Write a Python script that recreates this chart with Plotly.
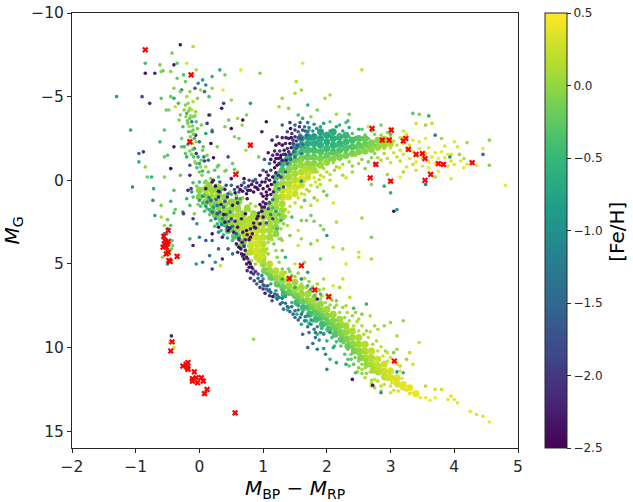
import plotly.graph_objects as go

# (BP-RP, M_G, [Fe/H]), by region of the diagram
# broad dense parts of the diagram, drawn as larger soft marks under the individual stars
dense_ms = [
(1.0,4.6,.2),(1.0,5.0,.12),(1.02,5.4,-.1),(1.1,5.0,.2),(1.1,5.4,.08),(1.12,5.8,-.2),(1.2,5.4,.2),(1.2,5.8,.02),(1.22,6.2,-.25),(1.3,5.6,.2),
(1.3,6.0,.05),(1.31,6.4,-.2),(1.33,6.8,-.45),(1.4,5.9,.18),(1.4,6.3,.0),(1.41,6.7,-.25),(1.5,6.1,.12),(1.5,6.5,.02),(1.51,6.9,-.2),(1.53,7.3,-.45),
(1.6,6.4,.12),(1.6,6.8,-.02),(1.61,7.2,-.2),(1.63,7.6,-.45),(1.7,6.8,.1),(1.7,7.2,-.05),(1.71,7.6,-.25),(1.73,8.0,-.45),(1.8,7.1,.08),(1.8,7.5,-.05),
(1.81,7.9,-.25),(1.83,8.3,-.45),(1.9,7.4,.05),(1.9,7.8,-.08),(1.91,8.2,-.25),(1.93,8.6,-.45),(2.0,7.7,.05),(2.0,8.1,-.05),(2.01,8.5,-.22),(2.03,8.9,-.4),
(2.1,8.0,.05),(2.1,8.4,-.03),(2.11,8.8,-.18),(2.13,9.2,-.35),(2.2,8.3,.08),(2.2,8.7,.0),(2.21,9.1,-.12),(2.23,9.5,-.28),(2.3,8.7,.08),(2.3,9.1,.02),
(2.31,9.5,-.08),(2.33,9.9,-.22),(2.4,9.0,.1),(2.4,9.4,.04),(2.41,9.8,-.03),(2.43,10.2,-.15),(2.5,9.4,.12),(2.5,9.8,.06),(2.51,10.2,.0),(2.53,10.6,-.08),
(2.6,9.8,.15),(2.6,10.2,.1),(2.61,10.6,.05),(2.63,11.0,.0),(2.7,10.2,.2),(2.7,10.6,.14),(2.71,11.0,.1),(2.73,11.35,.08),(2.8,10.7,.24),(2.8,11.1,.2),
(2.81,11.45,.14),(2.9,11.0,.28),(2.9,11.4,.24),(2.91,11.75,.2),(3.0,11.4,.32),(3.0,11.8,.28),(3.1,11.8,.36),(3.1,12.1,.32),(3.2,12.2,.38),(3.3,12.4,.4),
(3.4,12.75,.42),(.92,4.3,.25),(.95,4.75,.2),
]
dense_turnoff = [
(.0,.6,.0),(.0,1.0,-.1),(.1,.5,.05),(.1,.9,.02),(.1,1.3,-.1),(.2,.6,.05),(.2,1.0,.05),(.2,1.4,-.02),(.2,1.8,-.2),(.3,.8,.02),
(.3,1.2,.05),(.3,1.6,.02),(.3,2.0,-.15),(.4,1.0,.0),(.4,1.4,.06),(.4,1.8,.05),(.4,2.2,-.05),(.4,2.6,-.2),(.5,1.3,.02),(.5,1.7,.08),
(.5,2.1,.08),(.5,2.5,.02),(.5,2.9,-.15),(.6,1.7,.05),(.6,2.1,.1),(.6,2.5,.1),(.6,2.9,.06),(.6,3.3,-.1),(.7,2.0,.08),(.7,2.4,.14),
(.7,2.8,.16),(.7,3.2,.15),(.7,3.6,.0),(.8,2.3,.12),(.8,2.7,.18),(.8,3.1,.24),(.8,3.5,.26),(.8,3.9,.25),(.8,4.3,.18),(.9,2.2,.08),
(.9,2.6,.14),(.9,3.0,.2),(.9,3.4,.26),(.9,3.8,.3),(.9,4.2,.3),(.9,4.6,.25),(1.0,1.8,.03),(1.0,2.2,.08),(1.0,2.6,.14),(1.0,3.0,.18),
(1.0,3.4,.22),(1.0,3.8,.22),(1.0,4.2,.2),(1.1,1.4,.03),(1.1,1.8,.05),(1.1,2.2,.08),(1.1,2.6,.1),(1.1,3.0,.1),(1.1,3.4,.08),(1.2,1.2,.08),
(1.2,1.6,.08),(1.2,2.0,.05),(1.2,2.4,.03),(1.2,2.8,-.02),(1.3,1.0,.2),(1.3,1.4,.12),(1.3,1.8,.02),(.15,.3,.02),(.3,.45,.0),(.55,1.3,.0),
(.62,1.25,.02),(.75,1.65,.06),(.85,2.0,.06),(.35,2.4,-.25),(.45,3.0,-.3),(.55,3.35,-.2),(.68,3.85,-.1),(.25,2.05,-.25),(1.2,3.2,.0),(1.3,2.2,.0),
]
dense_giants = [
(1.2,1.0,.02),(1.2,.6,-.05),(1.2,.2,-.15),(1.2,-.2,-.4),(1.3,1.0,.22),(1.3,.6,.2),(1.3,.2,.08),(1.3,-.2,-.05),(1.3,-.6,-.35),(1.3,-1.0,-.6),
(1.4,1.0,.3),(1.4,.6,.32),(1.4,.2,.18),(1.4,-.2,.05),(1.4,-.6,-.05),(1.4,-1.0,-.3),(1.4,-1.4,-.65),(1.5,.8,.3),(1.5,.4,.3),(1.5,.0,.2),
(1.5,-.4,.1),(1.5,-.8,-.02),(1.5,-1.2,-.2),(1.5,-1.6,-.5),(1.5,-2.0,-.8),(1.6,.3,.3),(1.6,-.1,.32),(1.6,-.5,.15),(1.6,-.9,.03),(1.6,-1.3,-.15),
(1.6,-1.7,-.35),(1.6,-2.1,-.65),(1.6,-2.5,-.9),(1.7,-.2,.28),(1.7,-.6,.16),(1.7,-1.0,.02),(1.7,-1.4,-.15),(1.7,-1.8,-.38),(1.7,-2.2,-.62),(1.7,-2.6,-.85),
(1.8,-.6,.12),(1.8,-1.0,.0),(1.8,-1.4,-.15),(1.8,-1.8,-.38),(1.8,-2.2,-.62),(1.8,-2.6,-.75),(1.9,-.9,.05),(1.9,-1.3,-.12),(1.9,-1.7,-.35),(1.9,-2.1,-.6),
(1.9,-2.5,-.68),(1.9,-2.9,-.75),(2.0,-1.1,.02),(2.0,-1.5,-.2),(2.0,-1.9,-.45),(2.0,-2.3,-.62),(2.0,-2.7,-.7),(2.1,-1.3,-.05),(2.1,-1.7,-.28),(2.1,-2.1,-.55),
(2.1,-2.5,-.6),(2.1,-2.9,-.65),(2.2,-1.4,-.08),(2.2,-1.8,-.3),(2.2,-2.2,-.5),(2.2,-2.6,-.55),(2.3,-1.5,-.1),(2.3,-1.9,-.3),(2.3,-2.3,-.45),(2.3,-2.7,-.5),
(2.4,-1.6,-.08),(2.4,-2.0,-.28),(2.4,-2.4,-.38),(2.5,-1.7,-.05),(2.5,-2.1,-.22),(2.5,-2.5,-.3),(2.6,-1.75,-.02),(2.6,-2.15,-.15),(2.6,-2.5,-.2),(2.7,-1.85,.0),
(2.7,-2.25,-.1),(2.8,-2.0,.02),(2.8,-2.4,-.02),(2.9,-2.1,.08),(2.9,-2.45,.08),(3.0,-2.2,.15),
]
ms_band = [
(1.02,4.8,.1),(1.0,5.1,.0),(1.05,5.3,-.1),(.98,4.6,.15),(1.08,5.0,.2),(1.1,5.2,.1),(1.12,5.6,-.1),(1.06,5.6,-.3),(1.15,5.5,.1),(1.18,5.9,-.05),
(1.14,5.9,-.25),(1.2,5.6,.15),(1.22,6.1,-.1),(1.25,5.8,.1),(1.28,6.0,.05),(1.24,6.3,-.3),(1.3,6.3,-.15),(1.33,6.0,.1),(1.35,6.4,-.1),(1.38,6.2,.1),
(1.3,6.6,-.4),(1.4,6.6,-.2),(1.42,6.4,.05),(1.45,6.7,-.1),(1.48,6.5,.1),(1.47,6.9,-.3),(1.5,6.8,-.05),(1.53,6.6,.15),(1.55,7.0,-.15),(1.58,6.8,.05),
(1.54,7.2,-.35),(1.6,7.1,-.1),(1.62,6.9,.1),(1.64,7.3,-.2),(1.67,7.1,.0),(1.7,7.5,-.25),(1.72,7.2,.05),(1.68,7.6,-.4),(1.74,7.4,-.1),(1.77,7.3,.1),
(1.78,7.7,-.2),(1.8,7.5,-.05),(1.83,7.4,.1),(1.76,7.9,-.4),(1.84,7.8,-.2),(1.87,7.6,-.02),(1.86,8.0,-.3),(1.9,7.8,-.1),(1.92,8.1,-.25),(1.94,7.7,.05),
(1.95,8.0,-.1),(1.88,8.3,-.45),(1.98,8.3,-.25),(2.0,8.0,-.05),(2.02,7.8,.1),(2.03,8.4,-.15),(2.05,8.1,.0),(1.97,8.6,-.4),(2.07,8.6,-.2),(2.09,8.3,-.05),
(2.1,7.95,.1),(2.12,8.7,-.1),(2.14,8.4,.0),(2.05,8.9,-.35),(2.15,8.9,-.2),(2.17,8.6,-.05),(2.19,8.2,.1),(2.2,9.1,-.1),(2.22,8.8,.0),(2.12,9.2,-.3),
(2.24,8.5,.12),(2.25,9.3,-.1),(2.27,9.0,.02),(2.2,9.5,-.25),(2.3,9.5,-.05),(2.31,9.2,.05),(2.33,8.9,.12),(2.26,9.7,-.2),(2.35,9.7,-.05),(2.36,9.4,.05),
(2.38,9.1,.15),(2.4,10.0,-.1),(2.41,9.7,.0),(2.33,10.1,-.2),(2.43,9.4,.1),(2.45,10.2,-.05),(2.46,9.9,.05),(2.48,9.6,.15),(2.38,10.4,-.15),(2.5,10.4,.0),
(2.51,10.1,.05),(2.53,9.8,.18),(2.44,10.6,-.1),(2.55,10.6,.02),(2.56,10.3,.1),(2.58,10.0,.2),(2.5,10.8,-.05),(2.6,10.8,.05),(2.62,10.5,.15),(2.63,10.2,.22),
(2.55,11.0,.0),(2.65,11.0,.1),(2.67,10.7,.18),(2.68,10.4,.25),(2.6,11.2,.02),(2.7,11.2,.15),(2.72,10.9,.2),(2.74,11.35,.12),(2.76,11.1,.2),(2.78,10.8,.28),
(2.68,11.45,.1),(2.8,11.3,.22),(2.82,11.55,.15),(2.84,11.2,.28),(2.86,11.5,.25),(2.88,11.75,.2),(2.9,11.4,.3),(2.92,11.7,.28),(2.95,11.9,.25),(2.97,11.6,.32),
(3.0,11.85,.32),(3.02,12.1,.28),(3.05,11.9,.35),(3.08,12.15,.33),(3.1,12.3,.3),(3.12,12.05,.38),(3.15,12.3,.38),(3.18,12.45,.35),(3.2,12.2,.4),(3.22,12.5,.4),
(3.25,12.55,.42),(3.3,12.75,.4),(3.35,12.7,.42),(3.42,12.85,.44),(3.47,13.0,.45),(3.55,13.0,.43),(3.62,13.15,.46),(3.7,13.0,.45),
(1.6,6.2,.1),(1.75,6.65,.05),(1.9,7.1,.1),(2.05,7.45,.05),(2.2,7.9,.1),(2.35,8.4,.1),(2.5,9.0,.15),(2.65,9.4,.2),(2.8,10.2,.25),(2.95,10.8,.3),
(1.5,5.75,.05),(1.68,6.4,.1),(1.82,6.85,.0),(1.98,7.3,.1),(2.12,7.6,.0),(2.28,8.2,.05),(2.42,8.7,.15),(2.58,9.2,.1),(2.72,9.8,.15),(2.88,10.5,.3),
(1.45,7.3,-.5),(1.62,7.85,-.5),(1.78,8.4,-.5),(1.92,8.85,-.5),(2.08,9.4,-.4),(2.22,9.9,-.3),(2.38,10.7,-.25),(2.5,11.2,-.1),(2.62,11.55,.0),(2.8,12.0,.15),
(2.48,11.45,.05),(2.6,11.8,.1),(2.7,11.95,.12),(2.9,12.2,.25),(3.0,12.3,.3),(3.05,12.55,.25),(3.12,12.6,.3),(2.95,10.3,.3),(3.1,11.0,.35),(3.18,11.85,.4),
(1.35,5.5,.1),(1.42,5.45,-.1),(1.55,5.55,.0),(1.65,5.85,.1),(1.72,6.05,-.05),(1.78,6.35,.1),(1.88,6.55,-.05),(1.92,6.9,.05),(2.0,6.85,.1),(2.08,7.15,-.05),
(2.15,7.45,.1),(2.25,7.6,.0),(2.32,7.9,.1),(2.4,8.1,.05),(2.47,8.45,.2),(2.55,8.7,.1),(2.62,9.0,.05),(2.68,9.05,.2),(2.78,9.6,.15),(2.85,9.95,.2),
(2.92,10.2,.1),(3.0,10.6,.3),(3.05,10.85,.2),(3.15,11.4,.35),(1.2,7.0,-.5),(1.38,7.75,-.6),(1.53,8.0,-.6),(1.68,8.4,-.55),(1.85,9.2,-.6),(2.0,9.6,-.5),
(2.12,9.9,-.4),(2.28,10.4,-.3),(2.42,11.0,-.25),(2.33,10.7,-.3),(2.55,11.55,-.05),(2.7,12.15,.1),(2.85,12.3,.2),(2.15,9.65,-.45),(1.95,9.15,-.55),(1.72,8.55,-.6),
]
ms_sparse = [
(1.3,5.3,-.1),(1.45,5.7,-.15),(1.5,6.1,.0),(1.6,5.9,.05),(1.7,6.3,-.4),(1.72,6.6,-.1),(1.85,6.2,.0),(1.95,6.5,.1),(2.03,7.0,.05),(2.15,7.2,-.1),
(2.2,6.4,.1),(1.8,6.9,-.3),(2.3,7.5,.1),(2.36,7.0,.2),(2.42,7.65,-.5),(2.45,7.9,.02),(2.5,8.3,.15),(2.55,8.0,-.1),(2.62,7.4,-.6),(2.68,8.1,.1),
(2.75,8.7,.05),(2.8,8.9,.15),(2.9,8.7,.0),(3.0,8.5,.05),(3.1,9.3,.1),(3.2,8.4,.0),(3.05,10.3,-.1),(3.1,10.1,.05),(3.25,10.7,.05),(3.3,10.3,.2),
(3.15,11.1,.2),(3.2,11.5,-.6),(3.35,11.0,.35),(3.45,9.7,.3),(3.55,12.3,.15),(3.7,12.5,.3),(3.8,12.5,.25),(3.95,12.9,.35),(4.05,13.3,.4),(4.25,13.8,.42),
(4.35,14.0,.35),(4.45,14.1,.4),(4.55,14.45,.45),(3.9,13.1,.42),(4.0,13.1,.4),(2.35,11.1,-.2),(2.45,11.5,-.4),(2.75,12.4,.05),(2.7,12.3,.1),(3.0,12.7,.3),
(2.85,12.6,.1),(3.1,11.45,-.9),(2.55,11.3,.1),(2.75,11.9,.2),(2.4,11.9,-2.3),(2.72,12.25,-2.4),(2.85,12.7,-1.0),(2.3,11.0,-.7),
(1.95,5.9,.1),(1.9,4.7,-.2),(1.9,6.8,-.4),(2.25,5.9,.25),(1.65,4.9,.1),(1.7,5.5,-.8),(1.5,5.0,.3),(2.1,6.3,.35),(1.25,4.9,.05),(1.4,5.3,-.2),
(1.35,4.6,-.6),(1.85,7.1,-2.2),
]
subdwarfs = [
(.58,3.8,-2.3),(.62,4.0,-2.4),(.6,4.3,-2.2),(.67,3.7,-2.4),(.66,4.4,-2.3),(.7,4.7,-2.4),(.72,4.2,-2.2),(.74,5.0,-2.3),(.78,5.2,-2.4),(.75,5.4,-2.1),
(.81,5.5,-2.2),(.85,5.6,-2.0),(.8,5.85,-1.9),(.86,6.0,-1.9),(.9,6.2,-1.7),(.95,6.4,-1.8),(1.0,6.5,-2.0),(1.03,6.75,-2.2),(1.08,6.6,-1.7),(1.1,6.9,-2.0),
(1.15,6.95,-2.3),(1.14,7.2,-1.7),(1.22,7.1,-1.6),(1.27,7.4,-1.6),(1.32,7.7,-1.4),(1.38,7.55,-1.5),(1.42,7.85,-1.5),(1.47,8.0,-1.4),(1.5,7.8,-1.3),(1.6,8.0,-1.3),
(1.65,8.4,-1.2),(1.75,8.6,-1.1),(1.8,8.9,-1.2),(1.72,9.1,-1.3),(1.62,9.2,-1.4),(1.85,8.75,-1.0),(1.9,9.1,-1.0),(1.82,9.4,-1.3),(1.95,9.2,-.9),(1.7,10.0,-1.6),
(2.05,9.1,-1.0),(1.85,10.1,-1.2),(1.95,10.05,-1.0),(1.98,10.4,-1.1),(2.0,11.3,-1.1),(2.1,10.0,-.7),(2.05,10.7,-.5),(2.15,10.9,-.7),(.3,4.1,-1.5),(.36,4.7,-2.2),
(.2,3.6,-1.5),(.45,4.1,-1.7),(.52,4.4,-1.4),(.25,4.9,-1.0),(.16,4.5,-1.3),(.05,4.9,-1.1),(-.05,5.0,-.9),(.2,5.3,-2.0),(1.6,5.9,-1.1),(1.75,6.5,-.8),
(1.3,5.9,-.8),(1.5,6.4,-.6),(1.0,5.9,-1.0),(1.12,6.2,-.7),(.98,5.7,-1.1),(1.2,6.6,-.9),(1.35,6.95,-.8),(1.55,7.5,-.7),(1.7,8.1,-.8),(1.6,8.6,-.8),
(.1,3.6,-1.7),(.33,5.1,.3),(-.1,3.9,-2.2),(.36,3.4,-2.2),(.0,3.4,-1.2),(-.15,3.5,-.6),
(.62,3.5,-2.0),(.7,3.95,-1.9),(.68,4.55,-2.0),(.76,4.7,-1.8),(.8,5.0,-2.2),(.84,5.3,-1.7),(.92,5.85,-1.5),(.95,6.05,-1.4),(1.02,6.3,-1.5),(1.05,6.5,-1.3),
(1.1,6.55,-1.2),(1.25,7.0,-1.2),(1.3,7.3,-1.2),(1.4,7.6,-1.1),(1.5,8.2,-1.4),(1.55,8.35,-1.5),(1.7,8.75,-1.3),(1.82,9.1,-1.2),(1.88,9.55,-1.0),(1.78,9.75,-1.4),
(.65,4.1,-2.4),(.7,4.45,-2.4),(.74,4.6,-2.3),(.78,4.9,-2.4),(.82,5.2,-2.4),(.88,5.45,-2.0),(.92,5.6,-1.8),(.98,6.05,-2.0),(1.0,6.25,-1.6),(1.07,6.3,-1.7),
(1.12,6.7,-1.7),(1.18,6.8,-1.5),(1.22,6.85,-1.4),(1.3,7.05,-1.4),(1.35,7.35,-1.3),(1.45,7.55,-1.3),(1.55,7.75,-1.2),(1.58,8.2,-1.2),(1.66,8.15,-1.1),(1.75,8.35,-1.0),
]
wd_sparse = [
(-.44,9.3,-2.2),(-.47,9.7,.4),(-.4,10.0,.3),(.85,9.5,.0),
(-.5,5.0,-1.2),(-.58,4.6,.0),(-.5,4.2,-.3),(-.47,4.4,.1),(-.44,4.1,-.2),(-.45,4.7,.1),(-.55,3.2,-1.4),(-.51,3.2,-.9),(-.43,3.6,-.3),(-.42,3.9,-.1),
(-.5,2.9,-1.2),(-.55,2.7,.0),(-.6,2.2,.1),(-.5,2.35,-.2),(-.4,1.95,-.4),(-.7,2.1,-.8),
(-.25,2.0,-1.9),(-.1,2.3,-2.0),(-.04,2.6,-1.0),
]
upper_ms = [
(-.85,-6.4,-2.3),(-.7,-6.4,-2.2),(-.9,-5.0,-1.8),(-1.3,-5.0,-.8),(-1.08,-3.0,-.7),(-.78,-4.6,-2.1),(-.85,-.8,.0),(-.95,-1.1,-.6),(-1.05,.4,-1.0),(-.95,-1.6,-1.5),
(-.88,-1.7,-2.0),(-.82,-.2,-.2),(-.75,-.2,-.6),(-.73,1.2,-.9),(-.72,.5,-.7),(-.55,-3.0,-.3),(-.62,-2.3,-.5),(-.55,-1.4,-.2),(-.5,-1.5,-.3),(-.55,-.2,-.1),
(-.45,-.7,-2.4),(-.4,-2.0,-2.3),(-.52,-4.2,-.2),(-.45,-5.0,-.2),(-.4,-5.5,.0),(-.38,-4.4,.2),(-.35,-6.1,-.2),(-.25,-6.3,-.3),(-.28,-5.4,-1.3),(-.3,-5.3,-.1),
(-.33,-4.6,-.4),(-.32,-3.6,-.1),(-.3,-3.9,-.1),(-.28,-2.5,-.1),(-.26,-3.2,-.4),(-.24,-2.0,-.5),(-.22,-1.6,-.3),(-.22,-4.5,-.1),(-.2,-4.0,-.4),(-.18,-4.6,.0),
(-.18,-3.4,-.1),(-.16,-3.2,.1),(-.15,-3.7,-.2),(-.15,-4.3,.05),(-.13,-2.9,-.1),(-.12,-4.2,.2),(-.12,-3.5,-1.3),(-.1,-3.0,-.2),(-.1,-4.7,.15),(-.08,-2.5,-.5),
(-.08,-1.9,-1.5),(-.07,-5.5,-1.7),(-.06,-2.7,-2.3),(-.05,-3.5,-.4),(-.05,-1.6,-2.0),(-.03,-4.9,-.05),(-.02,-1.4,-.7),(-.02,-5.8,-1.0),(.0,-.5,-.2),(.0,-2.3,-1.4),
(.02,-5.4,.1),(.03,-3.3,-.1),(.03,-1.2,-.2),(.05,-1.8,-.2),(.07,-1.4,-1.2),(.08,-5.3,-1.3),(.1,-2.8,-.8),(.1,-5.7,-1.1),(.12,-1.5,-.1),(.15,-5.0,-.4),
(.17,-3.9,-.1),(.2,-3.0,-.5),(.18,-2.2,-2.4),(.24,-.6,-.3),(.3,-.2,-.4),(.28,-.8,-.1),(.3,-.9,-.2),(.28,-2.0,-.1),(.4,-3.2,-.1),(.4,-.55,-.1),
(.37,-5.4,.4),(.5,-4.8,.0),(.52,-1.0,-.2),(.55,-2.6,.0),(.42,-.6,-.1),(.45,-1.4,-1.7),(.62,-2.5,-.1),(.46,-3.6,-.2),(.5,-3.1,-2.4),(.6,-3.7,.1),
(.55,-.65,-.2),(.68,-3.6,-2.4),(.67,-3.3,.0),(.74,-3.9,-.1),(.8,-4.6,-.8),(.73,-1.8,.15),(.93,-1.4,-.1),(.35,-4.3,-2.3),(.38,-4.6,-1.9),(-.2,-1.4,-.6),
(-.28,-2.0,-.3),(-.05,-1.0,-.2),(.15,-3.9,-2.3),(.2,-2.9,-1.7),(.12,-3.4,-2.0),(.14,-.5,-.3),(.18,-.1,-.2),(-.15,-.9,-1.5),(.5,-.1,-2.3),(.6,-.5,-.1),
(-.6,-4.9,-.3),(-.48,-4.2,-.1),(-.4,-4.9,-.7),(-.15,-.3,-2.2),(-.3,-.3,-.2),(-.4,.6,-.3),(-.45,1.25,-.5),(-.38,1.75,-.2),(-.15,1.5,-.4),(-.2,1.1,-.6),
(-.18,.6,-2.2),(-.13,.5,-2.0),(-.1,1.0,-.3),(-.26,1.9,-1.0),(-.08,2.0,-.1),(-.12,.7,-.8),(-.45,2.7,-.3),(-.6,1.5,-.1),
(-.85,-7.0,-.4),(-.4,-6.9,-2.3),(-.2,-7.0,.35),(-.3,-8.1,-2.4),(-.45,-6.5,-.05),(-.62,-6.9,-.15),(-.6,-6.5,-.05),(-.35,-7.0,-.3),(-.22,-5.9,-.2),(-.05,-6.6,.15),
(.05,-6.0,-.8),(.2,-6.2,-.6),(.2,-5.5,-.05),(.32,-6.6,-.6),(.4,-6.3,-.1),(.65,-6.6,.4),(.95,-6.4,-.05),(-.43,-7.6,-.1),(-.57,-6.55,-.2),(-.1,-8.0,.2),
(-.24,-4.2,-.05),(-.21,-3.8,.0),(-.19,-3.55,-.15),(-.17,-2.9,-.3),(-.14,-2.6,-.05),(-.11,-2.2,.2),(-.09,-1.4,-.3),(-.07,-1.1,-.05),(-.05,-2.3,.0),(-.03,-3.1,-.1),
(.0,-1.0,-.6),(.02,-.8,.05),(.04,-.3,-.1),(.06,-2.0,-.3),(.1,-.8,.1),(-.16,-2.4,.25),(-.1,-3.8,-.1),(-.06,-4.1,-.05),(-.2,-5.0,.1),(-.15,-5.3,.0),
(-.17,-4.15,-.05),(-.14,-3.85,.05),(-.11,-3.25,-.1),(-.09,-2.75,-.2),(-.07,-3.85,-.05),(-.18,-2.15,-.6),(-.15,-1.75,-.1),(-.12,-1.55,-.05),(-.1,-1.85,-.3),(-.04,-.75,-.4),
(.05,-.55,-.5),(.08,-1.15,-1.9),(.14,-1.2,-1.6),(.22,-1.35,-2.4),(.1,.05,-.1),(.0,.1,-.5),(-.1,.15,-.4),(-.04,.35,-.05),(.22,.0,-2.1),(.32,.1,-1.6),
]
turnoff_core = [
(.0,.7,-.05),(.03,1.0,.1),(.06,.5,.05),(.08,.9,-.2),(.1,1.2,.05),(.12,.7,.2),(.14,1.0,-.1),(.15,.35,.0),(.17,1.3,-.05),(.19,.8,.1),
(.2,1.6,.0),(.22,1.1,.15),(.24,.6,-.05),(.25,1.4,-.2),(.27,1.0,.05),(.3,1.7,-.05),(.31,1.3,.1),(.33,.9,.0),(.35,2.0,.0),(.36,1.5,.05),
(.38,1.1,-.1),(.4,1.8,.1),(.41,2.3,-.1),(.43,1.4,.0),(.45,2.0,.15),(.46,1.7,-.02),(.48,2.5,.0),(.5,1.4,.05),(.5,2.2,.1),(.52,1.9,.05),
(.54,2.7,.15),(.55,2.4,.0),(.57,1.7,.1),(.58,2.1,.15),(.6,2.6,.05),(.6,3.0,.1),(.62,1.5,-.05),(.63,2.3,.2),(.65,2.8,.2),(.66,1.9,.05),
(.68,3.2,.15),(.69,2.5,.1),(.7,2.1,.0),(.71,3.0,.25),(.73,2.7,.2),(.74,3.5,.2),(.75,2.3,.15),(.77,3.1,.3),(.78,1.8,.05),(.79,3.8,.3),
(.8,2.7,.2),(.81,3.4,.3),(.83,2.2,.1),(.84,4.1,.3),(.85,3.0,.25),(.86,3.7,.3),(.87,4.4,.3),(.88,2.5,.15),(.9,3.3,.25),(.91,4.0,.3),
(.92,4.6,.25),(.93,2.8,.15),(.95,3.6,.25),(.96,4.3,.25),(.97,2.2,.1),(.98,3.1,.2),(1.0,3.9,.15),(1.01,4.5,.2),(1.02,2.6,.1),(1.03,3.4,.2),
(1.05,2.0,.05),(1.06,4.1,.1),(1.07,3.0,.15),(1.08,3.7,.1),(1.1,2.4,.05),(1.12,3.3,.05),(1.13,1.8,.0),(1.15,2.8,.0),(1.17,3.8,-.1),(1.18,2.1,.05),
(1.2,3.1,.0),(1.22,1.5,.1),(1.24,2.5,.1),(1.26,1.9,.15),(1.28,3.5,-.1),(1.3,1.4,.05),
(.3,2.3,-.15),(.22,2.1,-.1),(.12,1.7,-.3),(.4,2.7,-.3),(.5,3.0,-.2),
(.55,3.4,-.4),(.65,3.7,-.1),(.72,4.15,.05),(.75,4.4,.1),(.82,4.8,.15),(.88,5.0,.05),(1.2,4.2,.1),(1.22,4.6,-.05),(1.3,4.2,-.2),(1.3,3.6,.1),
(1.38,2.7,.1),(1.42,3.3,-.1),(1.55,3.0,.3),(1.55,3.9,.3),(1.45,2.2,-.4),(1.6,3.5,.1),(1.68,2.4,-.05),(1.75,3.8,-.1),(1.85,3.6,.1),(1.35,1.75,.15),
(.05,1.35,-.5),(.1,1.55,-.9),(.15,1.05,-1.2),(.2,1.9,-1.3),(.28,1.5,-1.2),(.38,1.6,-1.3),(.48,1.9,-1.2),(.32,.7,-1.6),(.42,.3,-1.8),(.58,1.05,-1.6),
(.25,2.3,-1.3),(.35,2.65,-1.1),(.45,3.0,-1.4),(.15,1.75,-.6),(.62,3.4,-.8),(.7,3.9,-1.2),(.6,2.8,-2.3),(.4,2.5,-2.3),(.3,1.0,-2.3),(.52,1.5,-2.4),
(.18,1.2,-1.6),(.12,1.3,-1.4),(.26,1.15,-1.5),(.32,1.9,-1.6),(.42,2.05,-1.5),(.22,1.6,-.9),(.36,2.3,-.9),(.46,2.45,-1.6),(.52,2.75,-1.3),(.58,3.2,-1.5),
(.66,2.3,-2.3),(.72,2.0,-2.4),(.56,2.45,-2.2),(.48,2.85,-2.3),(.34,3.0,-.6),(.28,2.6,-.5),(.05,.95,-.9),(.0,1.2,-.7),(.08,1.85,-.4),(.18,2.4,-.5),
(.02,1.55,-.3),(-.02,1.45,-.1),(.08,.15,.0),(.16,2.05,-.2),(.24,2.75,-.4),(.3,3.1,-.9),(.38,3.25,-.5),(.44,3.45,-.8),(.52,3.6,-.4),(.6,3.9,-.3),
(.26,.3,.0),(.38,.45,.05),(.48,.7,.02),(.58,.9,.0),(.68,1.05,.05),(.8,1.4,.1),(.88,1.55,.08),(.35,.55,-.3),(.5,.85,-.5),(.64,1.1,-.7),
(.44,1.0,-2.3),(.56,.75,-2.4),(.34,1.45,-2.2),(.4,1.25,-1.7),(.5,2.3,-2.0),(.44,2.8,-1.9),(.28,2.0,-1.8),(.54,3.1,-2.3),(.62,3.55,-2.4),(.38,2.05,-2.4),
(.6,2.25,.15),(.66,2.65,.12),(.76,2.55,.2),(.84,3.35,.3),(.94,3.95,.32),(.98,4.65,.3),(1.04,4.3,.2),(1.08,4.4,.0),(1.14,3.55,.1),(1.25,3.5,.0),
(1.32,2.6,-.1),(1.28,2.9,.05),(1.35,2.15,.05),(1.25,2.05,-.3),(1.15,1.65,-.4),(1.05,2.55,-1.7),(1.12,2.05,-1.2),(1.2,1.85,-.8),(1.22,2.9,-.5),(1.28,2.4,-.6),
]
halo_dark = [
(.55,.55,-1.7),(.6,.4,-2.2),(.62,.7,-1.5),(.66,.3,-2.1),(.68,.65,-2.3),(.72,.45,-1.4),(.74,.8,-2.4),(.77,.35,-2.2),(.8,.6,-2.3),(.82,.25,-2.4),
(.85,.7,-2.4),(.87,.4,-2.4),(.9,.15,-2.2),(.92,.55,-2.3),(.95,.3,-2.4),(.97,.8,-2.1),(1.0,.5,-2.4),(1.03,.1,-2.3),(1.05,.7,-2.4),(1.07,.35,-2.4),
(1.1,.0,-2.3),(1.1,.55,-2.4),(1.13,.25,-2.4),(1.15,-.2,-2.4),(1.16,.7,-2.3),(1.18,.1,-2.2),(1.2,-.45,-2.3),(1.05,-.1,-2.0),(1.12,-.6,-2.1),(1.22,-.9,-2.4),
(1.24,-.3,-2.0),(1.18,-1.1,-2.3),(1.15,-1.5,-2.2),(1.2,-1.3,-2.4),(1.25,-1.0,-2.2),(1.28,-1.5,-2.4),(1.3,-1.2,-2.3),(1.26,-1.75,-2.0),(1.33,-1.8,-2.3),(1.35,-2.2,-2.2),
(1.32,-1.55,-1.9),(1.38,-1.9,-2.0),(1.4,-2.5,-2.1),(1.42,-2.2,-2.4),(1.45,-2.8,-2.0),(1.47,-2.4,-1.8),(1.5,-3.0,-1.9),(1.5,-2.6,-2.2),(1.52,-1.9,-1.5),(1.55,-2.9,-1.6),
(1.57,-3.2,-2.1),(1.6,-2.5,-1.7),(1.62,-3.0,-1.8),(1.65,-3.2,-1.3),(1.68,-2.7,-1.5),(1.7,-2.9,-1.2),(1.38,-2.9,-1.8),(1.3,-3.3,-1.5),(1.25,-2.2,-2.3),(1.43,-3.1,-2.4),
(1.1,-1.0,-1.4),(1.0,-.6,-1.7),(1.05,-.5,-2.2),(1.6,-1.6,-1.2),(1.5,-1.4,-1.3),(1.43,-1.25,-1.5),(1.38,-1.0,-1.4),(1.35,-.5,-1.7),(1.28,-.2,-1.9),(1.32,.4,-1.9),
(1.0,.95,-2.4),(1.05,1.1,-2.3),(1.0,1.3,-2.2),(.95,1.45,-2.4),(1.02,1.6,-2.3),(.98,1.85,-2.4),(.93,1.95,-2.2),(1.0,2.2,-2.4),(.9,2.3,-2.3),(.95,2.6,-2.4),
(.85,2.55,-2.3),(.88,2.85,-2.4),(.8,2.9,-2.2),(.83,3.2,-2.4),(.75,3.25,-2.3),(.78,3.55,-2.4),(.72,3.55,-2.2),(.68,3.1,-2.2),(1.1,1.35,-1.5),(1.08,1.7,-1.9),
(1.15,1.15,-1.4),(1.15,2.3,-1.9),(.4,.55,-2.3),(.3,.65,-2.4),(.45,.8,-1.5),(.5,.3,-1.4),(.2,.1,-2.4),(.25,.35,-2.4),(.1,.5,-2.3),
(1.6,.05,-1.1),(1.25,.5,-1.2),(.75,1.1,-2.3),(.6,1.35,-2.2),(.45,3.0,-2.4),(1.05,-3.5,-2.4),(.98,-2.9,-2.3),(.7,-.1,-2.4),
(.3,2.8,-2.4),(.2,3.2,-2.4),(.95,-.3,-2.4),(.88,-.05,-1.6),(.78,.0,-1.9),
(1.12,-1.25,-2.4),(1.22,-1.55,-2.3),(1.27,-1.35,-2.4),(1.35,-1.55,-2.2),(1.36,-2.55,-2.3),(1.4,-1.7,-2.1),(1.44,-1.95,-2.3),(1.47,-2.2,-1.9),(1.52,-2.35,-2.0),(1.55,-2.55,-1.7),
(1.3,-2.1,-2.4),(1.24,-1.3,-2.3),(1.18,-.75,-2.4),(1.08,-.3,-2.3),(.98,.1,-2.4),(.9,.45,-2.4),(.84,.05,-1.9),(.7,.15,-1.6),(.76,.6,-2.4),(.64,.55,-2.4),
(1.12,.85,-2.3),(1.06,.9,-2.4),(1.04,1.4,-2.4),(.98,1.6,-2.3),(.92,2.15,-2.4),(.86,2.8,-2.3),(.8,3.4,-2.4),(.74,3.0,-2.4),(1.22,-2.6,-1.9),(1.5,-3.3,-1.5),
(1.18,-1.75,-2.2),(1.3,-2.55,-2.2),(1.36,-1.2,-2.3),(1.42,-1.55,-1.9),(1.44,-2.55,-2.4),(1.48,-1.7,-1.6),(1.54,-2.1,-1.8),(1.58,-2.7,-1.4),(1.62,-2.15,-1.4),(1.66,-2.95,-1.6),
(1.72,-3.15,-1.1),(1.78,-2.95,-1.0),(1.84,-3.1,-.9),(1.58,-3.45,-1.7),(1.7,-3.45,-1.3),(1.42,-3.45,-1.9),(1.2,-2.1,-2.4),(1.14,-2.4,-2.2),(1.08,-1.65,-2.3),(1.02,-1.25,-1.6),
]
giants_core = [
(1.35,.9,.3),(1.38,.6,.35),(1.4,1.05,.3),(1.42,.75,.35),(1.45,.45,.3),(1.3,.7,.2),(1.32,1.1,.25),(1.25,.95,.15),(1.28,1.4,.2),(1.48,.85,.28),
(1.5,.3,.28),(1.52,.6,.3),(1.55,.1,.3),(1.57,-.1,.32),(1.6,.2,.32),(1.62,-.2,.35),(1.65,.05,.32),(1.67,-.35,.3),(1.7,-.1,.3),(1.72,-.5,.28),
(1.45,.1,.2),(1.4,.3,.18),(1.35,.1,.12),(1.3,.35,.1),(1.45,-.3,.15),(1.5,-.1,.15),(1.55,-.45,.15),(1.6,-.6,.15),(1.65,-.75,.1),(1.4,-.2,.08),
(1.35,-.5,.0),(1.3,-.1,.05),(1.45,-.7,.05),(1.5,-.95,.0),(1.55,-1.1,.0),(1.6,-1.25,-.05),(1.4,-.85,-.1),(1.35,-1.05,-.3),(1.45,-1.2,-.15),(1.5,-1.45,-.2),
(1.55,-1.6,-.3),(1.6,-1.7,-.4),(1.65,-1.4,-.2),(1.7,-1.55,-.3),(1.7,-1.05,-.05),(1.75,-1.3,-.15),(1.75,-.8,.05),(1.8,-1.1,-.05),(1.8,-.6,.1),(1.85,-.9,.05),
(1.65,-1.95,-.6),(1.7,-2.15,-.7),(1.75,-1.85,-.45),(1.8,-2.05,-.55),(1.8,-1.55,-.25),(1.85,-1.75,-.35),(1.85,-1.3,-.1),(1.9,-1.55,-.25),(1.9,-1.1,.0),(1.95,-1.35,-.15),
(1.85,-2.3,-.7),(1.9,-2.05,-.55),(1.95,-1.8,-.4),(2.0,-2.4,-.65),(2.0,-2.1,-.55),(2.05,-1.6,-.3),(2.05,-1.25,-.1),(2.1,-2.25,-.55),(2.1,-1.85,-.45),(2.15,-2.5,-.6),
(2.15,-2.05,-.5),(2.15,-1.55,-.25),(2.2,-2.3,-.55),(2.2,-1.8,-.35),(2.25,-2.6,-.55),(2.25,-2.05,-.45),(2.3,-2.35,-.5),(2.3,-1.7,-.25),(2.35,-2.6,-.45),(2.35,-2.0,-.4),
(2.4,-2.3,-.4),(2.4,-1.65,-.15),(2.45,-2.55,-.35),(2.45,-1.95,-.3),(2.5,-2.2,-.3),(2.5,-1.7,-.1),(2.55,-2.45,-.25),(2.55,-1.95,-.2),(2.6,-2.2,-.2),(2.65,-2.0,-.15),
(2.65,-2.5,-.2),(2.7,-2.3,-.1),(2.7,-1.75,-.05),(2.75,-2.1,-.1),(2.8,-1.85,.0),(2.8,-2.45,-.1),(2.85,-2.15,.05),(2.9,-1.9,.1),(2.9,-2.4,.05),(2.95,-2.2,.15),
(3.0,-1.95,.2),(3.05,-2.35,.15),(3.1,-2.1,.25),(3.15,-1.8,.3),(3.2,-2.2,.3),(3.25,-1.9,.35),(3.3,-2.1,.35),(3.35,-1.7,.4),(3.4,-1.5,.4),(3.45,-1.9,.42),
(3.5,-1.3,.42),(3.55,-1.6,.42),(3.6,-1.1,.42),(3.65,-1.4,.42),(3.7,-1.0,.44),(3.75,-1.3,.45),(3.8,-.9,.45),(1.9,-2.6,-.75),(1.95,-2.75,-.6),(2.05,-2.65,-.75),
(1.75,-2.45,-.8),(1.8,-2.7,-.9),(1.6,-2.2,-.8),(1.55,-2.0,-.9),(1.5,-1.8,-.6),(1.45,-1.55,-.5),(1.4,-1.45,-.6),(1.35,-1.3,-.5),(1.3,-.7,-.4),(1.25,-.5,-.4),
(2.0,-.95,.05),(2.1,-1.05,.05),(2.2,-1.25,-.1),(1.95,-.7,.1),(1.85,-.5,.12),(1.7,-.2,.22),(1.75,-.45,.22),(1.6,.3,.2),(1.5,.75,.22),(1.55,.45,.25),
(2.3,-1.4,-.1),(2.45,-1.5,-.05),(2.6,-1.65,-.05),(2.75,-1.6,.0),(2.9,-1.6,.15),(3.05,-1.65,.25),(3.2,-1.55,.35),(2.2,-2.75,-.4),(2.4,-2.8,-.3),(2.6,-2.7,-.2),
(2.85,-2.7,.1),(3.0,-2.6,.2),(3.2,-2.55,.3),(2.05,-2.95,-.7),(2.25,-2.95,-.75),
(2.95,-1.3,.2),(3.1,-1.4,.3),(2.7,-1.35,-.05),(2.85,-1.2,.1),(2.55,-1.25,.0),(2.35,-1.1,.05),(2.15,-.8,.1),(2.0,-.5,.15),(1.9,-.3,.2),(1.8,-.15,.3),
(3.0,-3.1,.25),(3.25,-2.75,.4),(3.45,-2.3,.38),(3.6,-1.95,.4),(3.7,-1.65,.35),(3.85,-1.35,.4),(3.95,-1.15,.3),(3.3,-1.3,.35),(3.5,-.85,.4),(3.75,-.55,.45),
(1.88,-.05,.15),(1.95,-.2,.25),(2.05,-.35,.2),(2.12,-.6,.05),(2.25,-.95,.15),(2.4,-.85,.0),(2.5,-1.0,.1),(2.65,-1.1,-.1),(2.8,-1.35,.1),(3.0,-1.05,.3),
(3.15,-1.15,.2),(3.25,-.8,.38),(3.4,-1.1,.4),(3.6,-.75,.45),(3.9,-.85,.42),(4.0,-.95,.4),(4.1,-1.15,.38),(4.2,-.95,.42),(3.95,-1.55,.38),(3.8,-1.7,.45),
(3.35,-2.4,.4),(3.15,-2.55,.3),(2.95,-2.85,.05),(2.7,-2.95,-.25),(2.5,-3.05,-.5),(2.35,-3.15,-.6),(2.15,-3.2,-.8),(1.95,-3.4,-.7),(1.8,-3.35,-.85),(2.3,-3.45,-.3),
(1.82,.1,.3),(1.75,.3,.25),(1.68,.55,.2),(1.6,.8,.25),(1.55,1.05,.3),(1.5,1.35,.25),(1.42,1.55,.25),(1.65,.85,.3),(1.72,.65,.1),(1.9,.25,.2),
]
giants_sparse = [
(1.62,-7.0,.4),(2.55,-6.6,.25),(1.52,-5.9,.15),(2.05,-5.1,.1),(1.5,-5.2,.1),(1.6,-5.4,.0),(1.3,-4.9,.05),(1.25,-4.4,.05),(1.4,-4.3,.0),(1.55,-3.9,-.4),
(1.7,-4.5,-.6),(1.85,-4.2,-.1),(1.75,-3.8,.0),(1.62,-3.7,-.6),(1.72,-3.0,-.4),(1.9,-3.2,-.7),(2.05,-3.5,-.3),(2.2,-3.3,-.5),(2.33,-3.55,-.4),(2.15,-3.95,.1),
(1.97,-4.9,.1),(2.65,-3.2,.3),(2.35,-3.95,-.1),(2.85,-3.3,-.1),(2.55,-3.05,-.3),(2.75,-2.75,-.1),(3.0,-2.75,-.3),(3.35,-4.0,-.3),(3.2,-2.95,.3),(3.45,-3.95,-.1),
(3.55,-3.3,.05),(3.6,-3.85,-.7),(3.65,-3.4,.2),(3.4,-3.4,.3),(3.7,-2.7,-1.2),(3.55,-2.5,.45),(3.8,-2.5,.05),(4.0,-2.3,.4),(4.05,-2.0,.35),(3.85,-2.05,.3),
(4.2,-2.25,.15),(4.55,-2.4,.0),(4.45,-1.9,.4),(4.45,-1.55,-1.4),(4.15,-1.3,.15),(4.08,-1.55,.0),(3.93,-1.4,-1.0),(3.9,-1.55,.45),(4.35,-.9,.4),(4.8,0.3,.45),
(4.55,-.9,-.1),(3.95,-.1,.45),(4.15,-.75,.4),(3.7,-.2,.1),(3.6,-.5,.35),(3.4,-.6,.3),(2.6,-.7,-.1),(2.75,-1.0,-.4),(2.4,-.5,.05),(2.2,-.75,.2),
(2.3,-.15,.3),(2.7,.25,-.05),(2.95,-.35,.05),(3.2,-.5,.1),(3.35,-.95,.3),(3.15,-.2,.45),(3.1,1.75,-.8),(3.0,.75,-.7),(3.55,.25,-1.3),(2.9,.35,-.6),
(2.05,.0,.2),(2.15,.35,.1),(1.95,.65,-.1),(1.85,.4,.1),(2.0,.9,-.2),(1.8,1.05,-.05),(2.25,-.3,.1),(1.85,1.2,.3),(2.1,1.35,.4),(1.75,1.5,.2),
(1.6,1.6,.15),(1.65,1.2,-.3),(1.4,1.9,.25),(1.6,2.4,-.1),(1.75,2.1,-.2),(1.8,2.45,-.1),(1.9,2.7,.0),(3.05,1.85,-2.4),(2.15,2.5,.2),(2.55,2.25,.0),
(2.7,3.4,-.1),(1.95,2.95,-.1),(2.0,3.3,-.9),(2.25,4.1,.1),(2.5,4.3,.3),(2.1,4.0,.2),(2.7,4.7,.1),(2.3,5.0,.4),(2.5,4.6,.3),
]
red_x = [-.85,-.13,-.15,.8,.57,2.71,3.01,3.24,3.2,2.87,2.98,3.28,3.5,3.4,3.54,3.75,3.83,4.28,2.77,2.68,3.0,3.54,3.63,1.6,1.41,1.81,2.03,
-.35,-.46,-.49,-.52,-.57,-.54,-.49,-.56,-.49,-.5,-.55,-.52,-.48,
-.43,-.45,-.18,-.26,-.21,-.19,-.18,-.08,-.11,-.11,-.05,-.03,.03,.06,.12,.08,.56,3.06]
red_y = [-7.8,-6.3,-2.3,-2.1,-.35,-3.1,-3.0,-2.5,-2.35,-2.4,-2.4,-1.85,-1.6,-1.55,-1.3,-1.0,-.95,-1.05,-.95,-.15,.05,.0,-.35,5.1,5.87,6.55,6.95,
4.55,4.85,4.3,4.0,4.0,3.6,3.65,3.35,3.0,3.8,3.8,4.4,4.8,
9.65,10.2,10.9,11.1,11.0,11.2,11.3,11.45,11.85,12.0,11.8,12.1,11.8,12.0,12.5,12.75,13.9,10.8]
x_ticks = [-2,-1,0,1,2,3,4,5]
y_ticks = [-10,-5,0,5,10,15]
cb_ticks = [-2.5,-2,-1.5,-1,-.5,0,.5]

dense = dense_ms + dense_turnoff + dense_giants
dense_x = [s[0] for s in dense]
dense_y = [s[1] for s in dense]
dense_feh = [s[2] for s in dense]
stars = giants_core + ms_band + turnoff_core + upper_ms + ms_sparse + giants_sparse + wd_sparse + subdwarfs + halo_dark
bp_rp = [s[0] for s in stars]
m_g = [s[1] for s in stars]
feh = [s[2] for s in stars]

FONT = "DejaVu Sans"
INK = "#262626"
fig = go.Figure()
fig.add_trace(go.Scatter(
    x=dense_x, y=dense_y, mode="markers", showlegend=False, hoverinfo="skip",
    marker=dict(size=7, color=dense_feh, colorscale="Viridis", cmin=-2.5, cmax=.5, line=dict(width=0), showscale=False),
))
fig.add_trace(go.Scatter(
    x=bp_rp, y=m_g, mode="markers", showlegend=False, hoverinfo="skip",
    marker=dict(
        size=3.6, color=feh, colorscale="Viridis", cmin=-2.5, cmax=.5, line=dict(width=0),
        colorbar=dict(
            x=(545-72)/446, xanchor="left", xpad=0, y=0, yanchor="bottom", ypad=0, len=1,
            thicknessmode="pixels", thickness=22, outlinewidth=1, outlinecolor=INK,
            tickvals=cb_ticks, tickformat=".1f", ticks="outside", ticklen=4, tickwidth=1, tickcolor=INK,
            tickfont=dict(family=FONT, size=12, color=INK),
        ),
    ),
))
fig.add_trace(go.Scatter(
    x=red_x, y=red_y, mode="markers", showlegend=False, hoverinfo="skip",
    marker=dict(symbol="x", size=5.5, color="red", line=dict(width=0)),
))
axis = dict(showgrid=False, zeroline=False, showline=True, mirror=True, linecolor=INK, linewidth=1,
            ticks="outside", ticklen=4, tickwidth=1, tickcolor=INK,
            tickfont=dict(family=FONT, size=15.5, color=INK))
fig.update_xaxes(range=[-2, 5], tickvals=x_ticks,
                 title=dict(text="<i>M</i><sub>BP</sub> − <i>M</i><sub>RP</sub>", standoff=2,
                            font=dict(family=FONT, size=20, color="black")), **axis)
fig.update_yaxes(range=[16, -10], tickvals=y_ticks,
                 title=dict(text="<i>M</i><sub>G</sub>", standoff=6,
                            font=dict(family=FONT, size=20, color="black")), **axis)
fig.add_annotation(text="[Fe/H]", xref="paper", yref="paper", x=(617-72)/446, y=.497,
                   xanchor="center", yanchor="middle",
                   textangle=-90, showarrow=False, font=dict(family=FONT, size=20, color="black"))
fig.update_layout(width=633, height=502, margin=dict(l=72, r=115, t=13, b=54, autoexpand=False),
                  paper_bgcolor="white", plot_bgcolor="white")
fig.write_html("out.html", config=dict(displayModeBar=False),
               post_script="document.body.style.margin='0';window.dispatchEvent(new Event('resize'));")
